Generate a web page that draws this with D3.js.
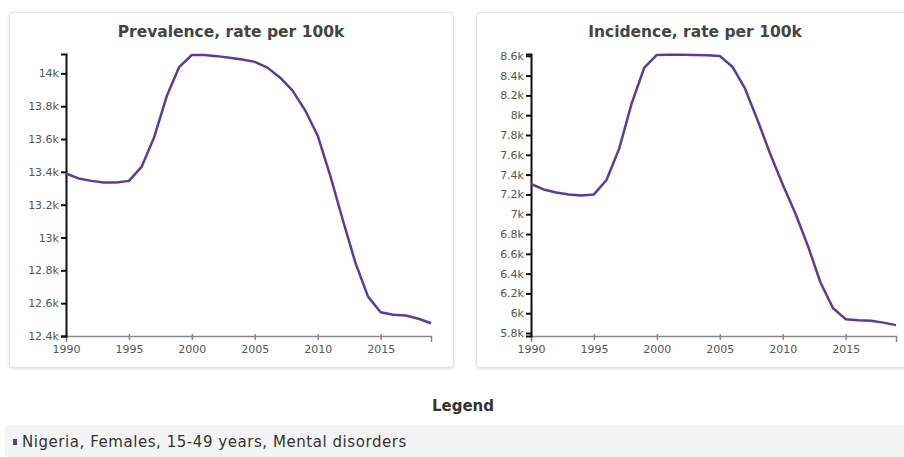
<!DOCTYPE html>
<html lang="en">
<head>
  <meta charset="UTF-8">
  <title>Nigeria, Females, 15-49 years, Mental disorders</title>
  <script src="https://d3js.org/d3.v7.min.js"></script>
  <style>
    body { margin: 0; background: #fff; font-family: Verdana, "DejaVu Sans", sans-serif; }
    .card {
      position: absolute; background: #fff; border: 1px solid #e2e2e2;
      border-radius: 4px; box-shadow: 0 1px 3px rgba(0,0,0,0.12);
    }
    .title { font-size: 15.5px; font-weight: bold; fill: #444; text-anchor: middle; }
    .y-axis path, .y-axis line { stroke: #111; stroke-width: 2px; }
    .x-axis path, .x-axis line { stroke: #888; stroke-width: 1.5px; }
    .tick text { fill: #555; font-size: 11px; font-family: Verdana, "DejaVu Sans", sans-serif; }
    .legend-title { position: absolute; left: 0; width: 926px; top: 397px; text-align: center;
      font-size: 15px; font-weight: bold; color: #333; font-family: "DejaVu Sans", sans-serif; }
    .legend-box { position: absolute; left: 5px; top: 425px; width: 910px; height: 40px; background: #f4f4f4; }
    .legend-item { position: absolute; left: 8px; top: 8px; font-size: 15px; letter-spacing: 0.55px; color: #333;
      font-family: "DejaVu Sans", sans-serif; }
    .legend-item span { display: inline-block; width: 4px; height: 6px; background: #5b3c9b; margin-right: 5px; vertical-align: 2px; }
  </style>
</head>
<body>
  <div class="card" style="left:9px; top:12px; width:443px; height:354px;"></div>
  <div class="card" style="left:476px; top:12px; width:440px; height:354px;"></div>
  <svg id="chart" width="904" height="380" style="position:absolute; left:0; top:0;"></svg>
  <div class="legend-title">Legend</div>
  <div class="legend-box"><div class="legend-item"><span></span>Nigeria, Females, 15-49 years, Mental disorders</div></div>

  <script>
    const years = d3.range(1990, 2020);
    const prevalence = [13390, 13360, 13345, 13335, 13335, 13345, 13430, 13610, 13860, 14040,
                        14112, 14112, 14105, 14095, 14085, 14070, 14035, 13975, 13895, 13775,
                        13620, 13375, 13105, 12845, 12640, 12545, 12530, 12525, 12505, 12478];
    const incidence = [7305, 7250, 7220, 7200, 7190, 7200, 7345, 7660, 8120, 8480,
                       8608, 8610, 8610, 8608, 8605, 8598, 8490, 8270, 7950, 7610,
                       7300, 7010, 6680, 6310, 6050, 5940, 5930, 5925, 5905, 5880];
    const prevTicks = [12400, 12600, 12800, 13000, 13200, 13400, 13600, 13800, 14000];
    const incTicks = [5800, 6000, 6200, 6400, 6600, 6800, 7000, 7200, 7400, 7600, 7800, 8000, 8200, 8400, 8600];
    const xTicks = [1990, 1995, 2000, 2005, 2010, 2015];

    const panels = [
      { title: "Prevalence, rate per 100k", values: prevalence, ticks: prevTicks,
        domain: [12400, 14118], left: 66, cx: 231 },
      { title: "Incidence, rate per 100k", values: incidence, ticks: incTicks,
        domain: [5770, 8618], left: 531, cx: 695 }
    ];

    const svg = d3.select("#chart");
    const plotTop = 54, plotBottom = 336, plotW = 365;
    const kFmt = d => (d / 1000) + "k";

    panels.forEach(p => {
      const g = svg.append("g");

      g.append("text").attr("class", "title")
        .attr("x", p.cx).attr("y", 37).text(p.title);

      const x = d3.scaleLinear().domain([1990, 2019]).range([p.left, p.left + plotW]);
      const y = d3.scaleLinear().domain(p.domain).range([plotBottom, plotTop]);

      g.append("g").attr("class", "x-axis")
        .attr("transform", `translate(0, ${plotBottom})`)
        .call(d3.axisBottom(x).tickValues(xTicks).tickFormat(d3.format("d")).tickSizeOuter(6).tickSize(6))
        .call(a => a.selectAll(".tick line").attr("y1", -2).attr("y2", 4))
        .call(a => a.selectAll(".tick text").attr("dy", "0.71em").attr("y", 9));

      g.append("g").attr("class", "y-axis")
        .attr("transform", `translate(${p.left}, 0)`)
        .call(d3.axisLeft(y).tickValues(p.ticks).tickFormat(kFmt).tickSize(5).tickSizeOuter(5))
        .call(a => a.selectAll(".tick line").attr("stroke-width", 1.5).attr("x2", -5).attr("x1", 1))
        .call(a => a.selectAll(".tick text").attr("x", -7));

      const line = d3.line().x((d, i) => x(years[i])).y(d => y(d));
      g.append("path").datum(p.values)
        .attr("fill", "none")
        .attr("stroke", "#5b3c9b")
        .attr("stroke-width", 2.5)
        .attr("stroke-linejoin", "round")
        .attr("d", line);
    });
  </script>
</body>
</html>
